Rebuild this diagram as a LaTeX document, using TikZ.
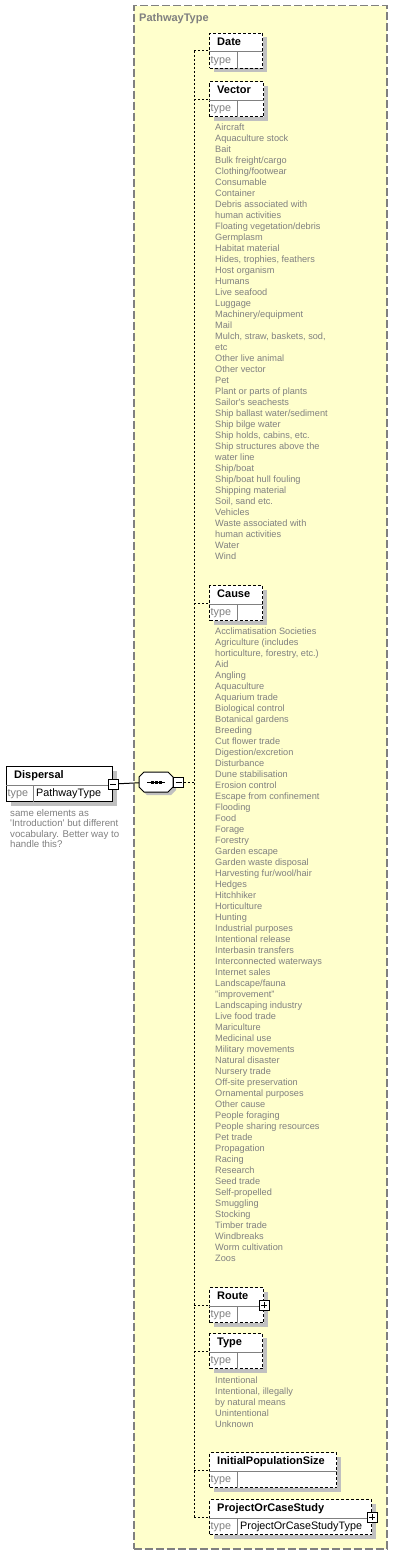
\documentclass[tikz,border=0pt]{standalone}
\usepackage{fontspec}
\setmainfont{Liberation Sans}
\usetikzlibrary{positioning,shadows}
\definecolor{paneyellow}{HTML}{FFFFCC}
\definecolor{shadowgray}{HTML}{C0C0C0}
\definecolor{textgray}{HTML}{808080}
\tikzset{
    schema diagram/.style = {x=1pt, y=-1pt},
    shadowed/.style = {drop shadow={shadow xshift=4pt, shadow yshift=-4pt,
                                    fill=shadowgray, opacity=1}},
    pane/.style     = {draw=textgray, fill=paneyellow, line width=1.5pt,
                       dash pattern=on 8pt off 3pt, anchor=north west,
                       inner sep=0pt},
    element/.style  = {draw, fill=white, line width=1pt, anchor=north west,
                       inner sep=0pt, minimum height=35pt, shadowed},
    optional/.style = {dash pattern=on 3pt off 2pt},
    divider/.style  = {draw=textgray, line width=1pt},
    wire/.style     = {draw, line width=1pt},
    branch/.style   = {draw, line width=1pt, dash pattern=on 2pt off 2pt},
    title/.style    = {font=\fontsize{11}{13}\selectfont\bfseries, text=textgray,
                       anchor=west, inner sep=0pt},
    ename/.style    = {font=\fontsize{11}{13}\selectfont\bfseries, anchor=west,
                       inner sep=0pt, text height=8pt, text depth=2.3pt},
    tlabel/.style   = {font=\fontsize{10.8}{13}\selectfont, text=textgray,
                       anchor=west, inner sep=0pt, text height=8pt, text depth=2.3pt},
    tvalue/.style   = {tlabel, text=black},
    enum/.style     = {font=\fontsize{9.2}{11}\selectfont, text=textgray,
                       anchor=base west, inner sep=0pt},
    note/.style     = {enum, font=\fontsize{9.7}{11}\selectfont},
    sequence/.style = {inner sep=0pt, minimum width=34pt, minimum height=20pt},
    seq outline/.style = {draw, fill=white, line width=1pt},
    toggle/.style   = {draw, fill=white, line width=1pt, minimum size=10pt,
                       inner sep=0pt},
    collapse/.style = {toggle, path picture={
                       \draw[line width=1pt]
                         ([xshift=2pt]path picture bounding box.west) --
                         ([xshift=-2pt]path picture bounding box.east);}},
    expand/.style   = {toggle, path picture={
                       \draw[line width=1pt]
                         ([xshift=2pt]path picture bounding box.west) --
                         ([xshift=-2pt]path picture bounding box.east)
                         ([yshift=2pt]path picture bounding box.south) --
                         ([yshift=-2pt]path picture bounding box.north);}}
}

\begin{document}
\begin{tikzpicture}[schema diagram]
\useasboundingbox (0,0) rectangle (405,1555);

% ================= Complex type pane =================
\node[pane, minimum width=253pt, minimum height=1543pt] (pathway) at (133,5) {};
\node[title] (pathway title) at (139,19) {PathwayType};

% ================= Root element =================
\node[element, minimum width=106pt] (dispersal) at (6,766) {};
\draw[divider] ([yshift=-19pt]dispersal.north west) -- ([yshift=-19pt]dispersal.north east);
\draw[divider] ([xshift=27pt]dispersal.south west) -- ([xshift=27pt,yshift=-19pt]dispersal.north west);
\node[ename] (dispersal name) at ([xshift=8pt,yshift=-9.5pt]dispersal.north west) {Dispersal};
\node[tlabel] (dispersal type) at ([xshift=1.5pt,yshift=8pt]dispersal.south west) {type};
\node[tvalue] (dispersal value) at ([xshift=30pt,yshift=8pt]dispersal.south west) {PathwayType};
\node[collapse] (dispersal toggle) at (dispersal.east) {};
\foreach \t [count=\i from 0] in {same elements as,
    \textquotesingle Introduction\textquotesingle{} but different,
    vocabulary. Better way to, handle this?}
  \node[note] (dispersal note-\i) at (10,816+10.5*\i) {\t};

% ================= Sequence compositor =================
\node[sequence] (seq) at (156,782) {};
\fill[shadowgray] ([shift={(3,3)}]seq.center) ++(-12,-10) -- ++(24,0) -- ++(5,5)
  -- ++(0,10) -- ++(-5,5) -- ++(-24,0) -- ++(-5,-5) -- ++(0,-10) -- cycle;
\draw[seq outline] (seq.center) ++(-12,-10) -- ++(24,0) -- ++(5,5)
  -- ++(0,10) -- ++(-5,5) -- ++(-24,0) -- ++(-5,-5) -- ++(0,-10) -- cycle;
\draw[line width=1pt] ([xshift=-9pt]seq.center) -- ([xshift=9pt]seq.center);
\foreach \dx in {-4,0,4}
  \fill ([xshift=\dx pt]seq.center) ++(-1.5,-1.5) rectangle ++(3,3);
\node[collapse, anchor=west] (seq toggle) at (seq.east) {};
\draw[wire] (dispersal toggle) -- (seq);
\coordinate (trunk) at (194,782);
\draw[branch] (seq toggle) -- (trunk);

% ================= Child elements =================
\foreach \e/\y/\w/\nm in {date/33/53/Date, vector/81/54/Vector, cause/585/53/Cause,
    route/1287/54/Route, type/1333/53/Type, size/1452/127/InitialPopulationSize,
    project/1499/162/ProjectOrCaseStudy} {
  \node[element, optional, minimum width=\w pt] (\e) at (209,\y) {};
  \draw[divider] ([yshift=-19pt]\e.north west) -- ([yshift=-19pt]\e.north east);
  \draw[divider] ([xshift=28pt]\e.south west) -- ([xshift=28pt,yshift=-19pt]\e.north west);
  \node[ename] (\e name) at ([xshift=8pt,yshift=-9.5pt]\e.north west) {\nm};
  \node[tlabel] (\e type) at ([xshift=1.5pt,yshift=8pt]\e.south west) {type};
}
\node[tvalue] (project value) at ([xshift=31pt,yshift=8pt]project.south west) {ProjectOrCaseStudyType};
\node[expand] (route toggle) at (route.east) {};
\node[expand] (project toggle) at (project.east) {};

% ================= Sequence branches =================
\draw[branch] (trunk |- date.west) -- (trunk |- project.west);
\foreach \e in {date,vector,cause,route,type,size,project}
  \draw[branch] (trunk |- \e.west) -- (\e.west);

% ================= Enumerations =================
\foreach \v [count=\i from 0] in {Aircraft, Aquaculture stock, Bait,
    Bulk freight/cargo, Clothing/footwear, Consumable, Container,
    Debris associated with, human activities, Floating vegetation/debris,
    Germplasm, Habitat material, {Hides, trophies, feathers}, Host organism,
    Humans, Live seafood, Luggage, Machinery/equipment, Mail,
    {Mulch, straw, baskets, sod,}, etc, Other live animal, Other vector, Pet,
    Plant or parts of plants, Sailor\textquotesingle s seachests,
    Ship ballast water/sediment, Ship bilge water, {Ship holds, cabins, etc.},
    Ship structures above the, water line, Ship/boat, Ship/boat hull fouling,
    Shipping material, {Soil, sand etc.}, Vehicles, Waste associated with,
    human activities, Water, Wind}
  \node[enum] (vector-\i) at (215,130+11*\i) {\v};

\foreach \v [count=\i from 0] in {Acclimatisation Societies,
    Agriculture (includes, {horticulture, forestry, etc.)}, Aid, Angling,
    Aquaculture, Aquarium trade, Biological control, Botanical gardens,
    Breeding, Cut flower trade, Digestion/excretion, Disturbance,
    Dune stabilisation, Erosion control, Escape from confinement, Flooding,
    Food, Forage, Forestry, Garden escape, Garden waste disposal,
    Harvesting fur/wool/hair, Hedges, Hitchhiker, Horticulture, Hunting,
    Industrial purposes, Intentional release, Interbasin transfers,
    Interconnected waterways, Internet sales, Landscape/fauna,
    "improvement", Landscaping industry, Live food trade, Mariculture,
    Medicinal use, Military movements, Natural disaster, Nursery trade,
    Off-site preservation, Ornamental purposes, Other cause, People foraging,
    People sharing resources, Pet trade, Propagation, Racing, Research,
    Seed trade, Self-propelled, Smuggling, Stocking, Timber trade,
    Windbreaks, Worm cultivation, Zoos}
  \node[enum] (cause-\i) at (215,634+11*\i) {\v};

\foreach \v [count=\i from 0] in {Intentional, {Intentional, illegally},
    by natural means, Unintentional, Unknown}
  \node[enum] (type-\i) at (215,1383+11*\i) {\v};

\end{tikzpicture}
\end{document}
